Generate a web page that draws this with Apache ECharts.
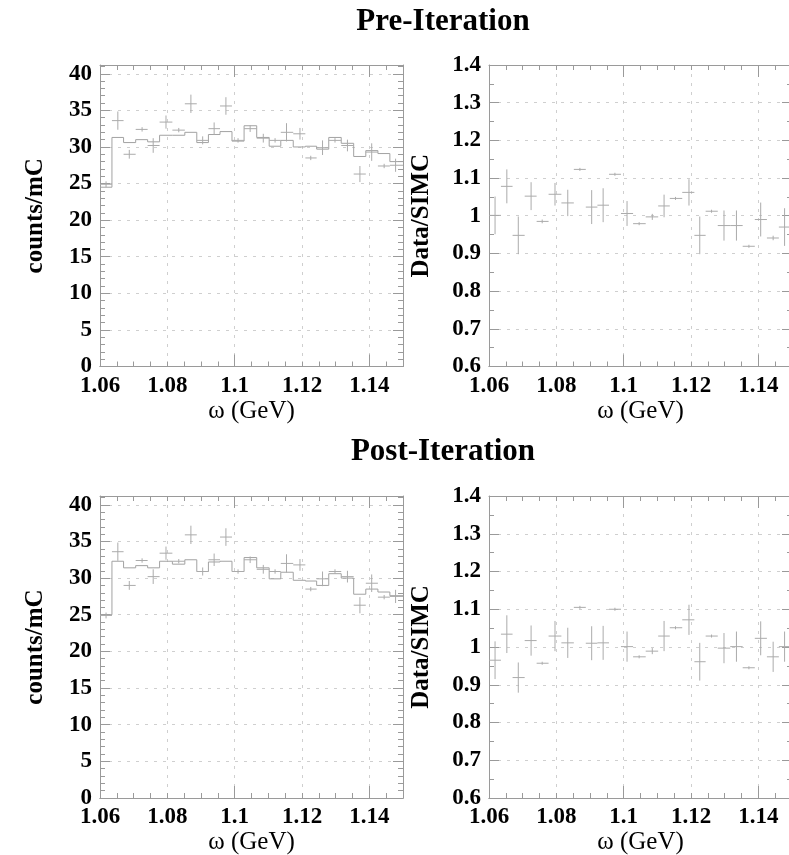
<!DOCTYPE html>
<html>
<head>
<meta charset="utf-8">
<script src="https://cdn.jsdelivr.net/npm/echarts@6/dist/echarts.min.js"></script>
<style>
  html, body { margin: 0; padding: 0; background: #FFFFFF; }
  #chart { width: 789px; height: 855px; }
</style>
</head>
<body>
<div id="chart"></div>
<script>
// omega bin centres (GeV)
var omega = [1.0618, 1.0653, 1.0687, 1.0725, 1.0758, 1.0796, 1.0834, 1.0870, 1.0905, 1.0939,
             1.0974, 1.1010, 1.1046, 1.1085, 1.1120, 1.1154, 1.1194, 1.1226, 1.1261, 1.1298,
             1.1335, 1.1372, 1.1407, 1.1444, 1.1478];
// data, counts/mC
var dataCounts = [24.9, 33.6, 29.0, 32.4, 30.2, 33.4, 32.3, 35.9, 30.9, 32.5,
                  35.6, 30.9, 32.5, 31.2, 30.9, 32.0, 31.8, 28.5, 29.9, 30.9,
                  30.2, 26.3, 29.3, 27.4, 27.5];
var dataErr = [0.4, 1.25, 0.6, 0.3, 1.0, 0.9, 0.3, 1.25, 0.55, 0.85,
               1.2, 0.3, 0.45, 0.6, 0.3, 1.25, 0.8, 0.3, 1.0, 0.3,
               0.8, 1.1, 1.2, 0.3, 0.9];
// SIMC histograms
var simcPre = [24.5, 31.3, 30.6, 31.0, 30.7, 31.6, 31.6, 32.0, 30.6, 31.7,
               32.1, 30.8, 32.9, 31.3, 30.1, 30.9, 30.0, 30.1, 29.7, 31.3,
               30.5, 28.7, 29.5, 29.1, 28.0];
var simcPost = [25.0, 32.3, 31.4, 31.7, 31.4, 32.3, 31.9, 32.5, 30.9, 32.2,
                32.3, 30.9, 32.8, 31.4, 29.9, 30.8, 29.7, 29.6, 29.0, 30.6,
                30.0, 27.8, 28.5, 28.1, 27.6];
// Data/SIMC
var ratioPre = [1.001, 1.078, 0.948, 1.052, 0.985, 1.057, 1.034, 1.123, 1.023, 1.028,
                1.110, 1.006, 0.979, 0.997, 1.026, 1.046, 1.062, 0.948, 1.012, 0.974,
                0.974, 0.919, 0.990, 0.941, 0.970];
var ratioPreErr = [0.05, 0.045, 0.05, 0.037, 0.005, 0.03, 0.035, 0.004, 0.045, 0.045,
                   0.004, 0.033, 0.004, 0.008, 0.03, 0.004, 0.035, 0.05, 0.004, 0.04,
                   0.04, 0.004, 0.045, 0.006, 0.05];
var ratioPost = [0.965, 1.034, 0.919, 1.017, 0.957, 1.029, 1.011, 1.105, 1.010, 1.011,
                 1.100, 1.001, 0.974, 0.989, 1.029, 1.051, 1.072, 0.961, 1.029, 0.997,
                 1.001, 0.945, 1.023, 0.974, 1.001];
var ratioPostErr = [0.05, 0.05, 0.04, 0.04, 0.004, 0.04, 0.04, 0.004, 0.045, 0.045,
                    0.004, 0.04, 0.004, 0.008, 0.04, 0.004, 0.04, 0.05, 0.004, 0.04,
                    0.04, 0.004, 0.045, 0.04, 0.04];

var panelTitles = ['Pre-Iteration', 'Post-Iteration'];
var xName = 'ω (GeV)';
var yNames = ['counts/mC', 'Data/SIMC'];

var X_MIN = 1.06, X_MAX = 1.15;
var FONT = '"Liberation Serif", "DejaVu Serif", serif';
var FRAME = '#9a9a9a';
var MARK = '#ababab';

// bin edges from the centres
var binLo = omega.map(function (x, i) { return i === 0 ? X_MIN : (omega[i - 1] + x) / 2; });
var binHi = omega.map(function (x, i) { return i === omega.length - 1 ? X_MAX : (x + omega[i + 1]) / 2; });

function crossData(vals, errs) {
  return omega.map(function (x, i) { return [x, vals[i], errs[i], binLo[i], binHi[i]]; });
}
function histData(vals) {
  return omega.map(function (x, i) { return [binLo[i], binHi[i], vals[i], i === 0 ? vals[i] : vals[i - 1]]; });
}

function renderCross(params, api) {
  var x = api.value(0), y = api.value(1), e = api.value(2);
  var top = api.coord([x, y + e]);
  var bot = api.coord([x, y - e]);
  var l = api.coord([api.value(3), y]);
  var r = api.coord([api.value(4), y]);
  var st = { stroke: MARK, lineWidth: 1 };
  return { type: 'group', children: [
    { type: 'line', shape: { x1: top[0], y1: top[1], x2: bot[0], y2: bot[1] }, style: st },
    { type: 'line', shape: { x1: l[0], y1: l[1], x2: r[0], y2: r[1] }, style: st }
  ] };
}
function renderHist(params, api) {
  var a = api.coord([api.value(0), api.value(2)]);
  var b = api.coord([api.value(1), api.value(2)]);
  var p = api.coord([api.value(0), api.value(3)]);
  var st = { stroke: '#a2a2a2', lineWidth: 1 };
  return { type: 'group', children: [
    { type: 'line', shape: { x1: p[0], y1: p[1], x2: a[0], y2: a[1] }, style: st },
    { type: 'line', shape: { x1: a[0], y1: a[1], x2: b[0], y2: b[1] }, style: st }
  ] };
}

var grids = [
  { left: 100, top: 65, width: 303, height: 301.5, outerBoundsMode: 'none' },
  { left: 489, top: 65, width: 303, height: 301.5, outerBoundsMode: 'none' },
  { left: 100, top: 496, width: 303, height: 302, outerBoundsMode: 'none' },
  { left: 489, top: 496, width: 303, height: 302, outerBoundsMode: 'none' }
];

var xAxes = [], yAxes = [];
grids.forEach(function (g, p) {
  // labelled axis with dotted grid
  xAxes.push({
    type: 'value', gridIndex: p, position: 'bottom', min: X_MIN, max: X_MAX, interval: 0.02,
    name: xName, nameLocation: 'middle', nameGap: 32,
    nameTextStyle: { fontFamily: FONT, fontSize: 25, color: '#000' },
    axisLine: { show: true, lineStyle: { color: FRAME } },
    axisTick: { show: false },
    axisLabel: { showMaxLabel: false, margin: 8, fontFamily: FONT, fontWeight: 'bold', fontSize: 23, color: '#000' },
    splitLine: { show: true, lineStyle: { color: '#cfcfcf', type: [3, 6] } }
  });
  // tick axes bottom and top
  ['bottom', 'top'].forEach(function (pos) {
    xAxes.push({
      type: 'value', gridIndex: p, position: pos, min: X_MIN, max: X_MAX, interval: 0.04,
      axisLine: { show: true, lineStyle: { color: FRAME } },
      axisTick: { show: true, inside: true, length: 12, lineStyle: { color: FRAME } },
      minorTick: { show: true, splitNumber: 8, length: 5, lineStyle: { color: FRAME } },
      axisLabel: { show: false }, splitLine: { show: false }
    });
  });
  var left = p % 2 === 0;
  var yMin = left ? 0 : 0.6, yMax = left ? 41.2 : 1.4, yInt = left ? 5 : 0.1;
  ['left', 'right'].forEach(function (pos) {
    yAxes.push({
      type: 'value', gridIndex: p, position: pos, min: yMin, max: yMax, interval: yInt,
      name: pos === 'left' ? yNames[left ? 0 : 1] : '',
      nameLocation: 'middle', nameGap: left ? 52 : 55, nameRotate: 90,
      nameTextStyle: { fontFamily: FONT, fontWeight: 'bold', fontSize: 25, color: '#000' },
      axisLine: { show: true, lineStyle: { color: FRAME } },
      axisTick: { show: true, inside: true, length: 10, lineStyle: { color: FRAME } },
      minorTick: { show: true, splitNumber: left ? 5 : 2, length: 5, lineStyle: { color: FRAME } },
      axisLabel: { show: pos === 'left', showMaxLabel: !left, margin: 8, fontFamily: FONT, fontWeight: 'bold', fontSize: 23, color: '#000' },
      splitLine: { show: pos === 'left', lineStyle: { color: '#cfcfcf', type: [3, 6] } }
    });
  });
});

var series = [
  { type: 'custom', xAxisIndex: 0, yAxisIndex: 0, clip: true, renderItem: renderHist, data: histData(simcPre) },
  { type: 'custom', xAxisIndex: 0, yAxisIndex: 0, clip: true, renderItem: renderCross, data: crossData(dataCounts, dataErr) },
  { type: 'custom', xAxisIndex: 3, yAxisIndex: 2, clip: true, renderItem: renderCross, data: crossData(ratioPre, ratioPreErr) },
  { type: 'custom', xAxisIndex: 6, yAxisIndex: 4, clip: true, renderItem: renderHist, data: histData(simcPost) },
  { type: 'custom', xAxisIndex: 6, yAxisIndex: 4, clip: true, renderItem: renderCross, data: crossData(dataCounts, dataErr) },
  { type: 'custom', xAxisIndex: 9, yAxisIndex: 6, clip: true, renderItem: renderCross, data: crossData(ratioPost, ratioPostErr) }
];

var chart = echarts.init(document.getElementById('chart'), null, { renderer: 'canvas' });
chart.setOption({
  animation: false,
  backgroundColor: '#FFFFFF',
  grid: grids,
  xAxis: xAxes,
  yAxis: yAxes,
  graphic: [
    { type: 'text', x: 443, y: 22, style: { text: panelTitles[0], textAlign: 'center', textVerticalAlign: 'middle', font: 'bold 31px ' + FONT, fill: '#000' } },
    { type: 'text', x: 443, y: 452, style: { text: panelTitles[1], textAlign: 'center', textVerticalAlign: 'middle', font: 'bold 31px ' + FONT, fill: '#000' } }
  ],
  series: series
});
</script>
</body>
</html>
